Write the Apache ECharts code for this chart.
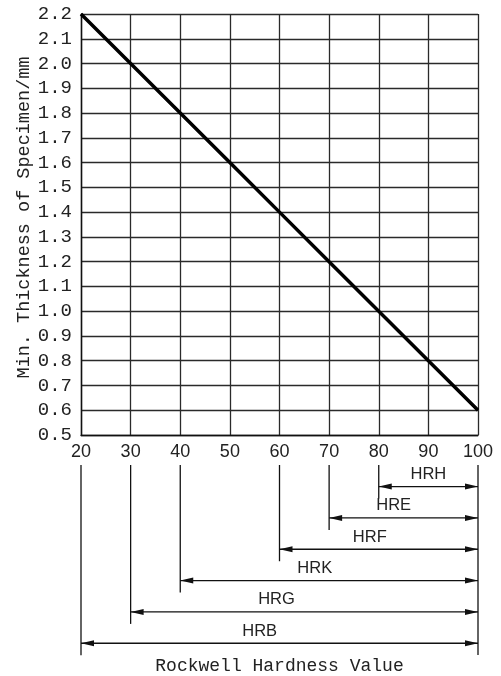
<!DOCTYPE html>
<html>
<head>
<meta charset="utf-8">
<script src="https://cdn.jsdelivr.net/npm/echarts@6/dist/echarts.min.js"></script>
<style>html,body{margin:0;padding:0;background:#fff;}#c{width:501px;height:676px;}</style>
</head>
<body>
<div id="c"></div>
<script>
// Chart data
const hardness = [20, 30, 40, 50, 60, 70, 80, 90, 100];
const thickness = [2.2, 2.0, 1.8, 1.6, 1.4, 1.2, 1.0, 0.8, 0.6];
const scaleNames = ['HRH', 'HRE', 'HRF', 'HRK', 'HRG', 'HRB'];
const scaleStart = [80, 70, 60, 40, 30, 20];
const scaleEnd = [100, 100, 100, 100, 100, 100];
const labelAt = [90, 83, 78.2, 67.1, 59.4, 56];   // label centre, in hardness units
const xTitle = 'Rockwell Hardness Value';
const yTitle = 'Min. Thickness of Specimen/mm';

const chart = echarts.init(document.getElementById('c'), null, {renderer: 'canvas'});
const INK = '#111';
const monoFont = '"Liberation Mono", "DejaVu Sans Mono", monospace';
const sansFont = '"Liberation Sans", Arial, sans-serif';

const rangeData = scaleNames.map((n, i) => [scaleStart[i], scaleEnd[i], i, labelAt[i], n]);

function renderRange(params, api) {
  const s = api.coord([api.value(0), api.value(2)]);
  const e = api.coord([api.value(1), api.value(2)]);
  const lab = api.coord([api.value(3), api.value(2)]);
  const top = params.coordSys.y;
  const y = s[1];
  const L = 13, W = 3;
  const style = {stroke: INK, lineWidth: 1.3};
  return {
    type: 'group',
    children: [
      {type: 'line', shape: {x1: s[0], y1: top, x2: s[0], y2: y + 12}, style},
      {type: 'line', shape: {x1: s[0], y1: y, x2: e[0], y2: y}, style},
      {type: 'polygon', shape: {points: [[s[0], y], [s[0] + L, y - W], [s[0] + L, y + W]]}, style: {fill: INK}},
      {type: 'polygon', shape: {points: [[e[0], y], [e[0] - L, y - W], [e[0] - L, y + W]]}, style: {fill: INK}},
      {type: 'text', x: lab[0], y: y - 12, style: {
        text: api.value(4), fill: '#222', font: '16.5px ' + sansFont,
        align: 'center', verticalAlign: 'middle'}}
    ]
  };
}

function renderEnd(params, api) {
  const p = api.coord([api.value(0), 0]);
  const cs = params.coordSys;
  return {type: 'line', shape: {x1: p[0], y1: cs.y, x2: p[0], y2: cs.y + cs.height},
          style: {stroke: INK, lineWidth: 1.3}};
}

const option = {
  animation: false,
  backgroundColor: '#fff',
  grid: [
    {left: 81, right: 23, top: 14, bottom: 241, containLabel: false},
    {left: 81, right: 23, top: 465, bottom: 17, containLabel: false}
  ],
  xAxis: [
    {
      type: 'value', gridIndex: 0, min: 20, max: 100, interval: 10,
      axisLine: {show: true, lineStyle: {color: INK, width: 1.4}},
      axisTick: {show: false},
      splitLine: {show: true, lineStyle: {color: '#2a2a2a', width: 1.3}},
      axisLabel: {color: '#222', fontSize: 18, fontFamily: sansFont, margin: 8}
    },
    {
      type: 'value', gridIndex: 1, min: 20, max: 100, interval: 10,
      axisLine: {show: false}, axisTick: {show: false}, axisLabel: {show: false}, splitLine: {show: false},
      name: xTitle, nameLocation: 'middle', nameGap: 2, nameMoveOverlap: false,
      nameTextStyle: {color: '#222', fontSize: 18, fontFamily: monoFont}
    }
  ],
  yAxis: [
    {
      type: 'value', gridIndex: 0, min: 0.5, max: 2.2, interval: 0.1,
      axisLine: {show: true, lineStyle: {color: INK, width: 1.4}},
      axisTick: {show: false},
      splitLine: {show: true, lineStyle: {color: '#2a2a2a', width: 1.3}},
      axisLabel: {color: '#222', fontSize: 19, fontFamily: monoFont, margin: 9,
                  formatter: v => v.toFixed(1)},
      name: yTitle, nameLocation: 'middle', nameGap: 47, nameMoveOverlap: false,
      nameTextStyle: {color: '#222', fontSize: 18.5, fontFamily: monoFont, padding: [0, 0, 0, 14]}
    },
    {
      type: 'value', gridIndex: 1, min: -0.6875, max: 5.375, inverse: true, show: false
    }
  ],
  series: [
    {
      type: 'line', xAxisIndex: 0, yAxisIndex: 0,
      data: hardness.map((h, i) => [h, thickness[i]]),
      symbol: 'none', lineStyle: {color: '#000', width: 3.5}, z: 5
    },
    {
      type: 'custom', xAxisIndex: 1, yAxisIndex: 1,
      data: rangeData, renderItem: renderRange, silent: true
    },
    {
      type: 'custom', xAxisIndex: 1, yAxisIndex: 1,
      data: [[Math.max(...scaleEnd)]], renderItem: renderEnd, silent: true
    }
  ]
};
chart.setOption(option);
</script>
</body>
</html>
